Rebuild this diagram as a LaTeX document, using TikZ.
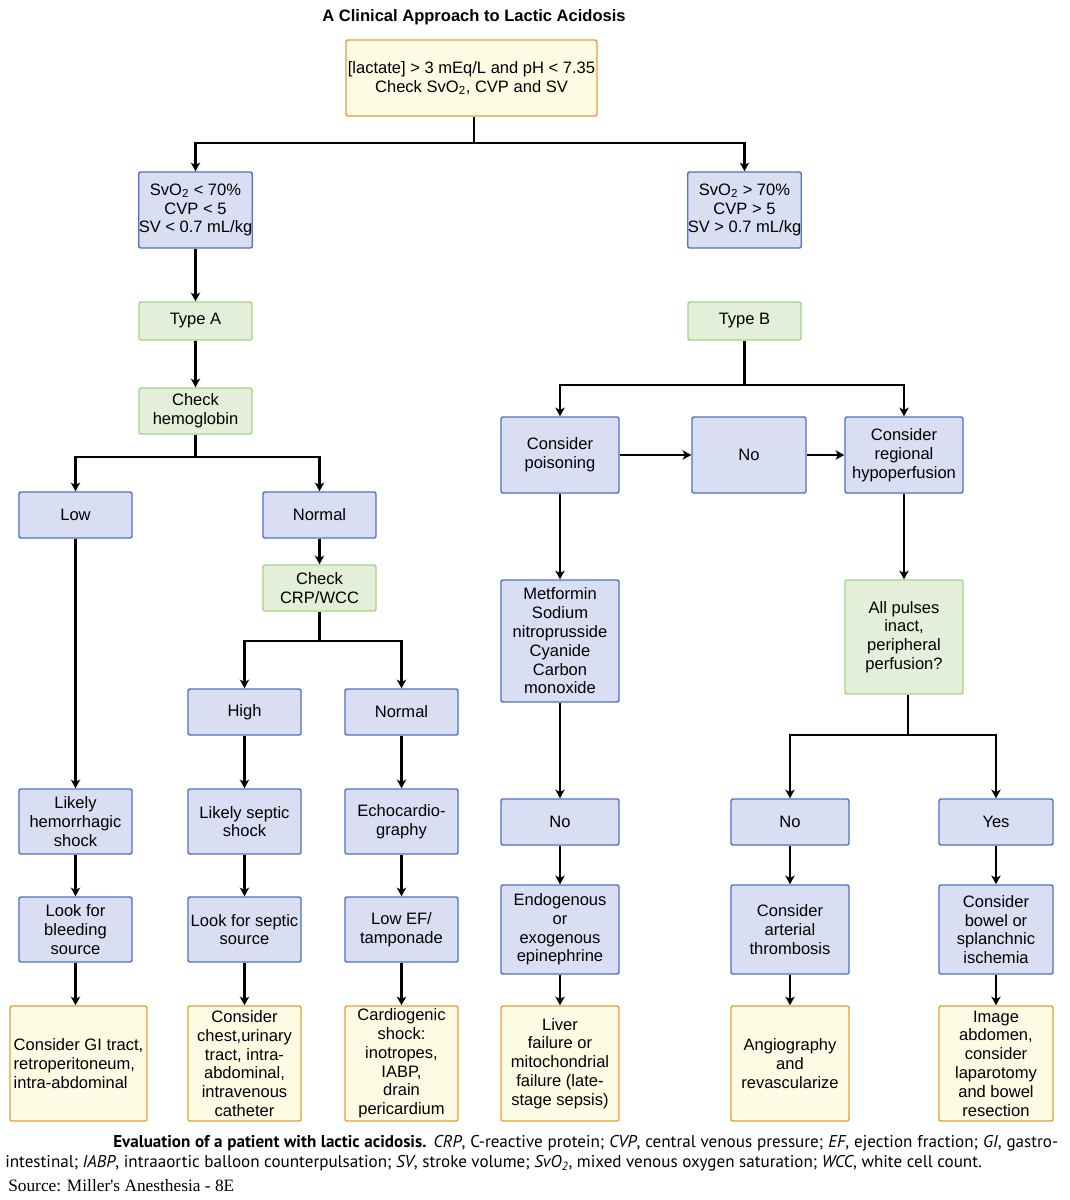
\documentclass[tikz,border=0pt]{standalone}
\usepackage{fontspec}
\setmainfont{Liberation Sans}
\newfontfamily\capfont{PT Sans}
\newfontfamily\srcfont{Liberation Serif}
\usetikzlibrary{arrows.meta}
\definecolor{bfill}{HTML}{D9DEF3}
\definecolor{bdraw}{HTML}{4F72C4}
\definecolor{gfill}{HTML}{E3EFD8}
\definecolor{gdraw}{HTML}{A6D18A}
\definecolor{yfill}{HTML}{FDFBE4}
\definecolor{ydraw}{HTML}{E5A038}
\tikzset{
  boxbase/.style={draw, rounded corners=1.5pt, line width=1.1pt, inner sep=0pt, align=center,
    font=\fontsize{12.4}{14.1}\selectfont},
  bluebox/.style={boxbase, draw=bdraw, fill=bfill},
  greenbox/.style={boxbase, draw=gdraw, fill=gfill},
  yellowbox/.style={boxbase, draw=ydraw, fill=yfill},
  sz/.style 2 args={minimum width=#1*0.75pt, minimum height=#2*0.75pt},
  conn/.style={line width=1.7pt, draw=black},
  thinconn/.style={line width=1.1pt, draw=black},
  tip/.style={-{Stealth[length=6.5pt,width=7pt,inset=1.8pt]}},
  arr/.style={conn, tip},
  thinarr/.style={thinconn, tip},
}
\begin{document}
\begin{tikzpicture}[x=0.75pt, y=-0.75pt]
\fill[white] (0,0) rectangle (1070,1200);
\useasboundingbox (0,0) rectangle (1070,1200);

\node[font=\bfseries\fontsize{12.4}{14}\selectfont, inner sep=0] (title) at (474,17.5) {A Clinical Approach to Lactic Acidosis};

\node[yellowbox, sz={251}{76}] (top) at (471.5,78) {[lactate] > 3 mEq/L and pH < 7.35\\Check SvO\textsubscript{2}, CVP and SV};

% left side
\node[bluebox, sz={113}{76}] (svlo) at (195.5,210) {SvO\textsubscript{2} < 70\%\\CVP < 5\\SV < 0.7 mL/kg};
\node[bluebox, sz={113}{76}] (svhi) at (744.5,210) {SvO\textsubscript{2} > 70\%\\CVP > 5\\SV > 0.7 mL/kg};
\node[greenbox, sz={113}{38}] (typeA) at (195.5,321) {Type A};
\node[greenbox, sz={113}{38}] (typeB) at (744.5,321) {Type B};
\node[greenbox, sz={113}{46}] (hgb) at (195.5,411) {Check\\hemoglobin};
\node[bluebox, sz={113}{46}] (low) at (75.5,515) {Low};
\node[bluebox, sz={113}{46}] (norm) at (319.5,515) {Normal};
\node[greenbox, sz={113}{46}] (crp) at (319.5,588) {Check\\CRP/WCC};
\node[bluebox, sz={113}{46}] (high) at (244.5,712) {High};
\node[bluebox, sz={113}{46}] (norm2) at (401.5,712) {Normal};
\node[bluebox, sz={113}{65}] (hem) at (75.5,821.5) {Likely\\hemorrhagic\\shock};
\node[bluebox, sz={113}{65}] (sep) at (244.5,821.5) {Likely septic\\shock};
\node[bluebox, sz={113}{65}] (echo) at (401.5,821.5) {Echocardio-\\graphy};
\node[bluebox, sz={113}{65}] (bleed) at (75.5,929.5) {Look for\\bleeding\\source};
\node[bluebox, sz={113}{65}] (sepsrc) at (244.5,929.5) {Look for septic\\source};
\node[bluebox, sz={113}{65}] (lowef) at (401.5,929.5) {Low EF/\\tamponade};
\node[yellowbox, sz={137}{115}, align=left] (git) at (78.5,1063.5) {Consider GI tract,\\ retroperitoneum,\\intra-abdominal};
\node[yellowbox, sz={113}{115}] (chest) at (244.5,1063.5) {Consider\\chest,urinary\\tract, intra-\\abdominal,\\intravenous\\catheter};
\node[yellowbox, sz={113}{115}] (cardio) at (401.5,1063.5) {Cardiogenic\\shock:\\inotropes,\\IABP,\\drain\\pericardium};

% right side
\node[bluebox, sz={118}{76}] (pois) at (560,455) {Consider\\poisoning};
\node[bluebox, sz={114}{76}] (no1) at (749,455) {No};
\node[bluebox, sz={118}{76}] (reg) at (904,455) {Consider\\regional\\hypoperfusion};
\node[bluebox, sz={118}{122}] (met) at (560,641) {Metformin\\Sodium\\nitroprusside\\Cyanide\\Carbon\\monoxide};
\node[greenbox, sz={118}{114}] (pulse) at (904,637) {All pulses\\inact,\\peripheral\\perfusion?};
\node[bluebox, sz={118}{46}] (no2) at (560,822) {No};
\node[bluebox, sz={118}{46}] (no3) at (790,822) {No};
\node[bluebox, sz={114}{46}] (yes) at (996,822) {Yes};
\node[bluebox, sz={118}{89}] (endo) at (560,929.5) {Endogenous\\or\\exogenous\\epinephrine};
\node[bluebox, sz={118}{89}] (thromb) at (790,929.5) {Consider\\arterial\\thrombosis};
\node[bluebox, sz={114}{89}] (bowel) at (996,929.5) {Consider\\bowel or\\splanchnic\\ischemia};
\node[yellowbox, sz={118}{115}] (liver) at (560,1063.5) {Liver\\failure or\\mitochondrial\\failure (late-\\stage sepsis)};
\node[yellowbox, sz={118}{115}] (angio) at (790,1063.5) {Angiography\\and\\revascularize};
\node[yellowbox, sz={114}{115}] (image) at (996,1063.5) {Image\\abdomen,\\consider\\laparotomy\\and bowel\\resection};

% junctions
\coordinate (j1) at (474,143);
\coordinate (j2) at (195.5,457);
\coordinate (j3) at (319.5,641);
\coordinate (j4) at (744.5,385);
\coordinate (j5) at (908,735);

% connectors
\draw[conn] (top.south -| j1) -- (j1);
\draw[arr] (j1) -| (svlo.north);
\draw[arr] (j1) -| (svhi.north);
\draw[arr] (svlo) -- (typeA);
\draw[arr] (typeA) -- (hgb);
\draw[conn] (hgb.south) -- (j2);
\draw[arr] (j2) -| (low.north);
\draw[arr] (j2) -| (norm.north);
\draw[arr] (norm) -- (crp);
\draw[conn] (crp.south) -- (j3);
\draw[arr] (j3) -| (high.north);
\draw[arr] (j3) -| (norm2.north);
\draw[arr] (low) -- (hem);
\draw[arr] (high) -- (sep);
\draw[arr] (norm2) -- (echo);
\draw[arr] (hem) -- (bleed);
\draw[arr] (sep) -- (sepsrc);
\draw[arr] (echo) -- (lowef);
\draw[arr] (bleed.south) -- (bleed.south |- git.north);
\draw[arr] (sepsrc) -- (chest);
\draw[arr] (lowef) -- (cardio);

\draw[conn] (typeB.south) -- (j4);
\draw[arr] (j4) -| (pois.north);
\draw[arr] (j4) -| (reg.north);
\draw[arr] (pois) -- (no1);
\draw[arr] (no1) -- (reg);
\draw[arr] (pois) -- (met);
\draw[arr] (reg) -- (pulse);
\draw[thinconn] (pulse.south -| j5) -- (j5);
\draw[thinarr] (j5) -| (no3.north);
\draw[arr] (j5) -| (yes.north);
\draw[arr] (met) -- (no2);
\draw[arr] (no2) -- (endo);
\draw[arr] (endo) -- (liver);
\draw[arr] (no3) -- (thromb);
\draw[arr] (thromb) -- (angio);
\draw[arr] (yes) -- (bowel);
\draw[arr] (bowel) -- (image);

% caption
\node[anchor=base west, inner sep=0] (cap1) at (113,1147) {\capfont\fontsize{12.8}{14}\selectfont\makebox[708.75pt][s]{\textbf{Evaluation of a patient with lactic acidosis.} \textit{CRP}, C-reactive protein; \textit{CVP}, central venous pressure; \textit{EF}, ejection fraction; \textit{GI}, gastro-}};
\node[anchor=base west, inner sep=0] (cap2) at (5,1167) {\capfont\fontsize{12.8}{14}\selectfont intestinal; \textit{IABP}, intraaortic balloon counterpulsation; \textit{SV}, stroke volume; \textit{SvO\textsubscript{2}}, mixed venous oxygen saturation; \textit{WCC}, white cell count.};
\node[anchor=base west, inner sep=0] (cap3) at (8,1191) {\srcfont\fontsize{13}{15}\selectfont Source: Miller's Anesthesia - 8E};
\end{tikzpicture}
\end{document}
